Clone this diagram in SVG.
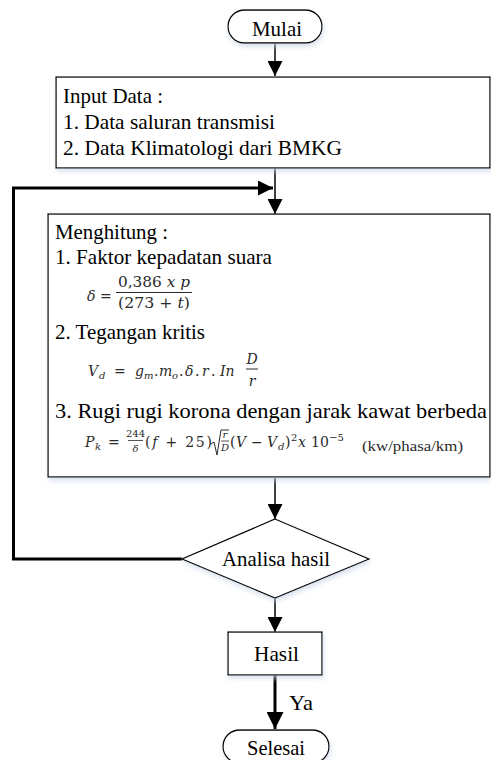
<svg xmlns="http://www.w3.org/2000/svg" width="491" height="760" viewBox="0 0 491 760">
<style>
.t{font-family:"Liberation Serif",serif;font-size:21px;fill:#000}
.s{fill:#fff;stroke:#000;stroke-width:1.3}
.c{fill:none;stroke:#000;stroke-width:1.5}
.ct{fill:none;stroke:#000;stroke-width:3}
.m{font-family:"DejaVu Serif",serif;font-size:14px;fill:#2a2a2a}
.i{font-style:italic}
.sm{font-size:10px}
.u{font-family:"Liberation Serif",serif;font-size:14px;fill:#2a2a2a}
</style>
<defs>
<filter id="sh" x="-10%" y="-10%" width="130%" height="140%">
<feDropShadow dx="1" dy="3" stdDeviation="2.5" flood-color="#c9d6e6" flood-opacity="0.7"/>
</filter>
<marker id="a" markerUnits="userSpaceOnUse" markerWidth="15" markerHeight="15" refX="15" refY="7.5" orient="auto" viewBox="0 0 15 15">
<path d="M0,0 L15,7.5 L0,15 z" fill="#000"/>
</marker>
<marker id="ab" markerUnits="userSpaceOnUse" markerWidth="17" markerHeight="17" refX="17" refY="8.5" orient="auto" viewBox="0 0 17 17">
<path d="M0,0 L17,8.5 L0,17 z" fill="#000"/>
</marker>
</defs>

<g id="connectors">
<path class="c" d="M275,43 V76" marker-end="url(#a)"/>
<path class="c" d="M275,168 V214" marker-end="url(#a)"/>
<path class="ct" d="M182,559 H13.5 V188 H273" marker-end="url(#a)"/>
<path class="c" d="M275,478 V519" marker-end="url(#a)"/>
<path class="c" d="M275,598 V632" marker-end="url(#a)"/>
<path class="ct" d="M275,675 V729" marker-end="url(#ab)"/>
<text class="t" x="289" y="710" textLength="24" lengthAdjust="spacingAndGlyphs">Ya</text>
</g>

<g id="mulai">
<rect class="s" x="228" y="10" width="94" height="33" rx="16.5" filter="url(#sh)"/>
<text class="t" x="252" y="36" textLength="50" lengthAdjust="spacingAndGlyphs">Mulai</text>
</g>

<g id="input">
<rect class="s" x="56" y="77" width="434" height="91" filter="url(#sh)"/>
<text class="t" x="63" y="103" textLength="100" lengthAdjust="spacingAndGlyphs">Input Data :</text>
<text class="t" x="63" y="129" textLength="212" lengthAdjust="spacingAndGlyphs">1. Data saluran transmisi</text>
<text class="t" x="63" y="155" textLength="279" lengthAdjust="spacingAndGlyphs">2. Data Klimatologi dari BMKG</text>
</g>

<g id="menghitung">
<rect class="s" x="48" y="214" width="442" height="263" filter="url(#sh)"/>
<text class="t" x="55" y="239" textLength="113" lengthAdjust="spacingAndGlyphs">Menghitung :</text>
<text class="t" x="55" y="264" textLength="217" lengthAdjust="spacingAndGlyphs">1. Faktor kepadatan suara</text>
<text class="m" x="87" y="301"><tspan class="i">δ</tspan> =</text>
<text class="m" x="118" y="287" textLength="72" lengthAdjust="spacingAndGlyphs">0,386 <tspan class="i">x p</tspan></text>
<line x1="116" y1="292.5" x2="192" y2="292.5" stroke="#2a2a2a" stroke-width="1"/>
<text class="m" x="118" y="308" textLength="72" lengthAdjust="spacingAndGlyphs">(273 + <tspan class="i">t</tspan>)</text>
<text class="t" x="55" y="339" textLength="150" lengthAdjust="spacingAndGlyphs">2. Tegangan kritis</text>
<text class="m" y="376"><tspan x="88" class="i">V</tspan><tspan x="99" dy="3" class="i sm">d</tspan><tspan x="114" dy="-3">=</tspan><tspan x="135" class="i">g</tspan><tspan x="144" dy="3" class="i sm">m</tspan><tspan x="154" dy="-3">.</tspan><tspan x="159" class="i">m</tspan><tspan x="172" dy="3" class="i sm">o</tspan><tspan x="179" dy="-3">.</tspan><tspan x="185" class="i">δ</tspan><tspan x="195">.</tspan><tspan x="202" class="i">r</tspan><tspan x="211">.</tspan><tspan x="220" class="i">In</tspan></text>
<text class="m i" x="252" y="364" text-anchor="middle">D</text>
<line x1="246" y1="369" x2="258" y2="369" stroke="#2a2a2a" stroke-width="1"/>
<text class="m i" x="252" y="386" text-anchor="middle">r</text>
<text class="t" x="55" y="418" textLength="432" lengthAdjust="spacingAndGlyphs">3. Rugi rugi korona dengan jarak kawat berbeda</text>
<text class="m" y="447"><tspan x="85" class="i">P</tspan><tspan x="95" dy="3" class="i sm">k</tspan><tspan x="108" dy="-3">=</tspan></text>
<text class="m sm" x="135.5" y="437" text-anchor="middle">244</text>
<line x1="128" y1="440.5" x2="143" y2="440.5" stroke="#2a2a2a" stroke-width="0.8"/>
<text class="m sm i" x="135.5" y="452" text-anchor="middle">δ</text>
<text class="m" x="145" y="447" textLength="67" lengthAdjust="spacing">(<tspan class="i">f</tspan> + 25)</text>
<path d="M211,444 L214,442 L217,455 L221,430 H229" fill="none" stroke="#2a2a2a" stroke-width="1"/>
<text class="m sm i" x="225" y="438" text-anchor="middle">r</text>
<line x1="221" y1="441" x2="229" y2="441" stroke="#2a2a2a" stroke-width="0.8"/>
<text class="m sm i" x="225" y="451" text-anchor="middle">D</text>
<text class="m" y="447"><tspan x="230">(</tspan><tspan x="236" class="i">V</tspan><tspan x="251">−</tspan><tspan x="267" class="i">V</tspan><tspan x="278" dy="3" class="i sm">d</tspan><tspan x="285" dy="-3">)</tspan><tspan x="291" dy="-6" class="sm">2</tspan><tspan x="298" dy="6" class="i">x</tspan><tspan x="311">10</tspan><tspan x="329" dy="-6" class="sm">−5</tspan></text>
<text class="u" x="362" y="451" textLength="101" lengthAdjust="spacingAndGlyphs">(kw/phasa/km)</text>
</g>

<g id="analisa">
<polygon class="s" points="275,519 369,559 275,598 182,559" filter="url(#sh)"/>
<text class="t" x="222" y="566" textLength="108" lengthAdjust="spacingAndGlyphs">Analisa hasil</text>
</g>

<g id="hasil">
<rect class="s" x="228" y="632" width="94" height="43" filter="url(#sh)"/>
<text class="t" x="254" y="661" textLength="45" lengthAdjust="spacingAndGlyphs">Hasil</text>
</g>

<g id="selesai">
<rect class="s" x="223" y="730" width="106" height="33" rx="16.5" filter="url(#sh)"/>
<text class="t" x="247" y="755" textLength="58" lengthAdjust="spacingAndGlyphs">Selesai</text>
</g>
</svg>
